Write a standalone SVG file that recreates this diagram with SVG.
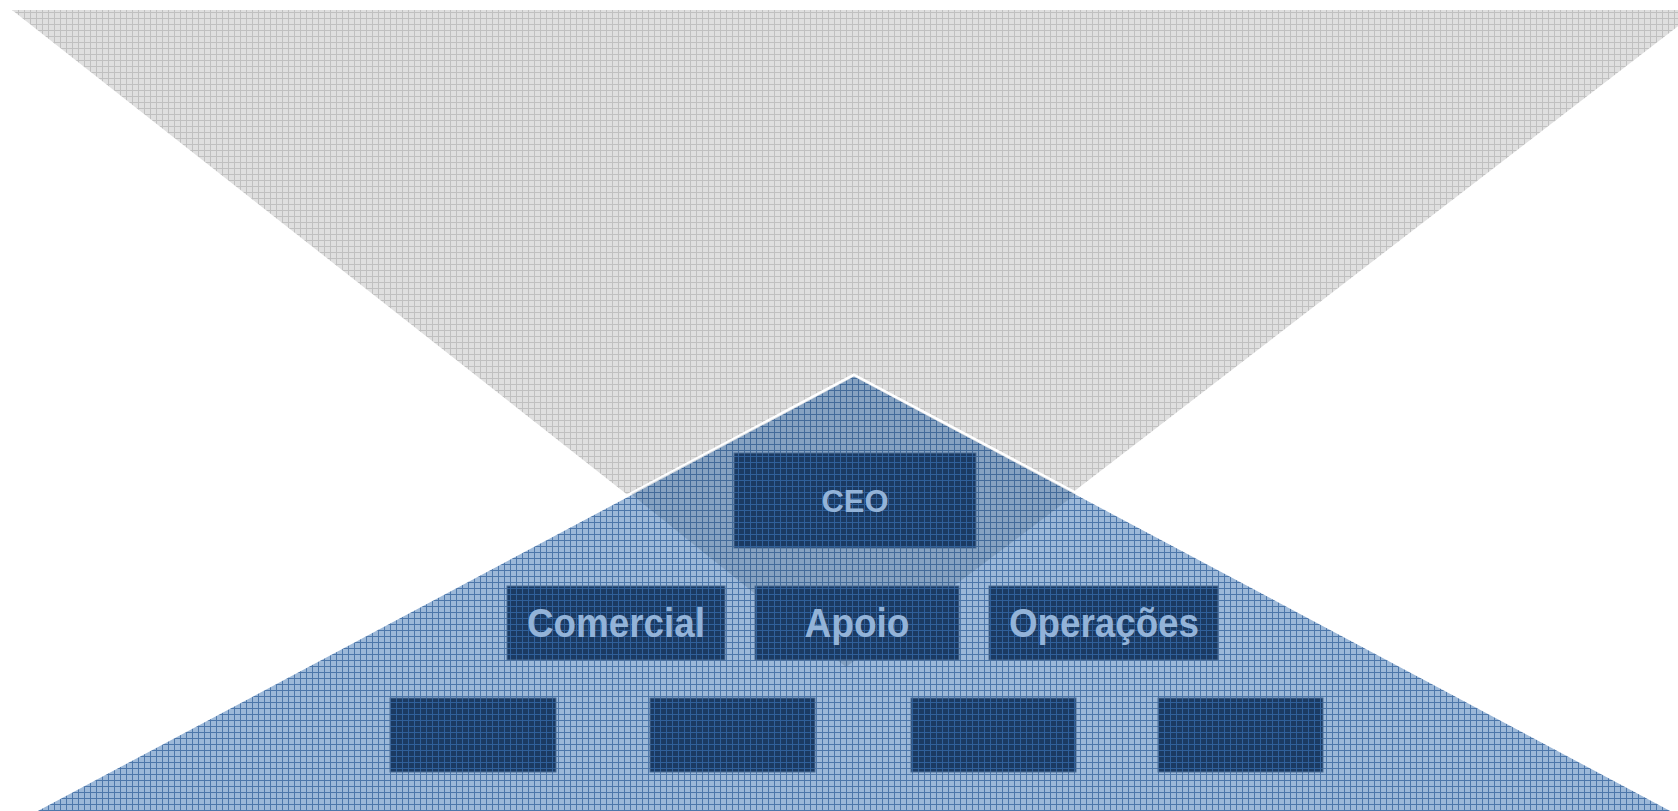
<svg xmlns="http://www.w3.org/2000/svg" width="1678" height="811" viewBox="0 0 1678 811">
  <defs>
    <pattern id="gridGray" width="6" height="6" patternUnits="userSpaceOnUse">
      <rect width="6" height="6" fill="#dfdfdf"/>
      <path d="M0 0.5H6M0.5 0V6" stroke="#c0c0c0" stroke-width="1" fill="none"/>
    </pattern>
    <pattern id="gridBlue" width="6" height="6" patternUnits="userSpaceOnUse">
      <rect width="6" height="6" fill="#9cb8d8"/>
      <path d="M0 0.5H6M0.5 0V6" stroke="#4d77aa" stroke-width="1" fill="none"/>
    </pattern>
    <pattern id="gridNavy" width="6" height="6" patternUnits="userSpaceOnUse">
      <rect width="6" height="6" fill="#1b3a62"/>
      <path d="M0 0.5H6M0.5 0V6" stroke="#30609a" stroke-width="1" fill="none"/>
    </pattern>
  </defs>
  <style>
    .box { fill: url(#gridNavy); stroke: #4d6f98; stroke-width: 1; }
    .lbl { font-family: "Liberation Sans", Arial, sans-serif; font-weight: bold; fill: #93b3d8; text-anchor: middle; }
  </style>

  <rect width="1678" height="811" fill="#ffffff"/>

  <g id="background">
    <polygon id="funnel" points="12,10 1699,10 846,667" fill="url(#gridGray)"/>
    <polygon id="pyramid" points="854,375 1711,831 -3,831" fill="url(#gridBlue)" stroke="#ffffff" stroke-width="3" stroke-linejoin="miter"/>
    <polygon id="overlap" points="631,494 854,376 1076,494 846,667" fill="#0b2546" fill-opacity="0.15"/>
  </g>

  <g id="connectors"></g>

  <g id="node-ceo">
    <rect class="box" x="734" y="453" width="242" height="95"/>
    <text class="lbl" x="855" y="512" font-size="31" textLength="67" lengthAdjust="spacingAndGlyphs">CEO</text>
  </g>

  <g id="node-comercial">
    <rect class="box" x="507" y="586" width="218" height="74"/>
    <text class="lbl" x="616" y="637" font-size="41" textLength="178" lengthAdjust="spacingAndGlyphs">Comercial</text>
  </g>
  <g id="node-apoio">
    <rect class="box" x="755" y="586" width="204" height="74"/>
    <text class="lbl" x="857" y="637" font-size="41" textLength="105" lengthAdjust="spacingAndGlyphs">Apoio</text>
  </g>
  <g id="node-operacoes">
    <rect class="box" x="989" y="586" width="229" height="74"/>
    <text class="lbl" x="1104" y="637" font-size="41" textLength="190" lengthAdjust="spacingAndGlyphs">Operações</text>
  </g>

  <g id="node-l3-1"><rect class="box" x="390" y="698" width="166" height="74"/></g>
  <g id="node-l3-2"><rect class="box" x="650" y="698" width="165" height="74"/></g>
  <g id="node-l3-3"><rect class="box" x="911" y="698" width="165" height="74"/></g>
  <g id="node-l3-4"><rect class="box" x="1158" y="698" width="165" height="74"/></g>
</svg>
